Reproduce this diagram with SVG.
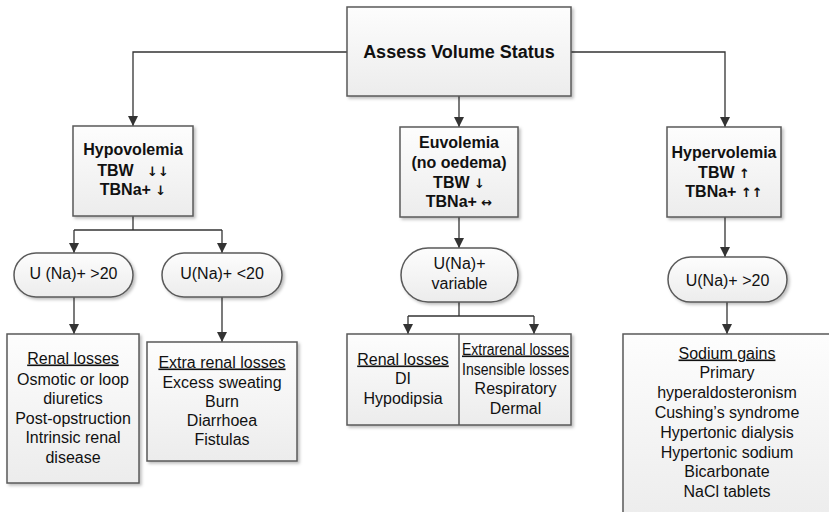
<svg xmlns="http://www.w3.org/2000/svg" width="829" height="512" viewBox="0 0 829 512">
<style>
.box{fill:url(#g);stroke:#5a5a5a;stroke-width:1.5;filter:url(#sh)}
.b{font-family:"Liberation Sans",Arial,sans-serif;font-weight:bold;font-size:16px;fill:#111;text-anchor:middle}
.t{font-family:"Liberation Sans",Arial,sans-serif;font-size:16px;fill:#111;text-anchor:middle}
.u{text-decoration:underline}
.ar{font-family:"DejaVu Sans",sans-serif;font-size:13px;fill:#111}
.c{fill:none;stroke:#333;stroke-width:1.3}
</style>
<defs>
<linearGradient id="g" x1="0" y1="0" x2="0" y2="1">
<stop offset="0" stop-color="#fdfdfd"/>
<stop offset="1" stop-color="#ececec"/>
</linearGradient>
<filter id="sh" x="-10%" y="-10%" width="130%" height="130%">
<feDropShadow dx="2" dy="2" stdDeviation="1.5" flood-color="#000" flood-opacity="0.25"/>
</filter>
<marker id="a" viewBox="0 0 10 10" refX="10" refY="5" markerWidth="10" markerHeight="10" markerUnits="userSpaceOnUse" orient="auto">
<path d="M0,0 L10,5 L0,10 z" fill="#333"/>
</marker>
</defs>
<rect width="829" height="512" fill="#fff"/>
<g id="connectors">
<path class="c" d="M347,52 H133 V126" marker-end="url(#a)"/>
<path class="c" d="M459,96 V127" marker-end="url(#a)"/>
<path class="c" d="M571,52 H725 V127" marker-end="url(#a)"/>
<path class="c" d="M133,216 V230"/>
<path class="c" d="M74,230 H222"/>
<path class="c" d="M74,230 V253" marker-end="url(#a)"/>
<path class="c" d="M222,230 V253" marker-end="url(#a)"/>
<path class="c" d="M74,297 V334" marker-end="url(#a)"/>
<path class="c" d="M222,297 V342" marker-end="url(#a)"/>
<path class="c" d="M459,217 V248" marker-end="url(#a)"/>
<path class="c" d="M459,302 V316"/>
<path class="c" d="M408,316 H534"/>
<path class="c" d="M408,316 V334" marker-end="url(#a)"/>
<path class="c" d="M534,316 V334" marker-end="url(#a)"/>
<path class="c" d="M725,217 V257" marker-end="url(#a)"/>
<path class="c" d="M727,302 V334" marker-end="url(#a)"/>
</g>
<g id="assess">
<rect class="box" x="347" y="7" width="224" height="89"/>
<text class="b" x="459" y="58" style="font-size:18px">Assess Volume Status</text>
</g>
<g id="hypovolemia">
<rect class="box" x="73" y="126" width="120" height="90"/>
<text class="b" x="133" y="154.5">Hypovolemia</text>
<text class="b" x="133" y="175.5" xml:space="preserve">TBW   <tspan class="ar">↓↓</tspan></text>
<text class="b" x="133" y="194.5">TBNa+ <tspan class="ar">↓</tspan></text>
</g>
<g id="euvolemia">
<rect class="box" x="400" y="127" width="118" height="90"/>
<text class="b" x="459" y="147.5">Euvolemia</text>
<text class="b" x="459" y="167.5">(no oedema)</text>
<text class="b" x="459" y="187.5">TBW <tspan class="ar">↓</tspan></text>
<text class="b" x="459" y="206.5">TBNa+ <tspan class="ar">↔</tspan></text>
</g>
<g id="hypervolemia">
<rect class="box" x="667" y="127" width="114" height="90"/>
<text class="b" x="724" y="157.5">Hypervolemia</text>
<text class="b" x="724" y="177.5">TBW <tspan class="ar">↑</tspan></text>
<text class="b" x="724" y="196.5">TBNa+ <tspan class="ar">↑↑</tspan></text>
</g>
<g id="una-gt20-left">
<rect class="box" x="14" y="253" width="119" height="44" rx="22"/>
<text class="t" x="73.5" y="278.5">U (Na)+ &gt;20</text>
</g>
<g id="una-lt20">
<rect class="box" x="162" y="253" width="120" height="44" rx="22"/>
<text class="t" x="222" y="278.5">U(Na)+ &lt;20</text>
</g>
<g id="una-variable">
<rect class="box" x="401" y="248" width="117" height="54" rx="27"/>
<text class="t" x="459.5" y="268.5">U(Na)+</text>
<text class="t" x="459.5" y="288.5">variable</text>
</g>
<g id="una-gt20-right">
<rect class="box" x="668" y="257" width="119" height="45" rx="22.5"/>
<text class="t" x="727.5" y="285.5">U(Na)+ &gt;20</text>
</g>
<g id="renal-losses">
<rect class="box" x="7" y="334" width="132" height="149"/>
<text class="t u" x="73" y="363.5">Renal losses</text>
<text class="t" x="73" y="384.5">Osmotic or loop</text>
<text class="t" x="73" y="403.5">diuretics</text>
<text class="t" x="73" y="423.5">Post-opstruction</text>
<text class="t" x="73" y="442.5">Intrinsic renal</text>
<text class="t" x="73" y="462.5">disease</text>
</g>
<g id="extra-renal-losses">
<rect class="box" x="147" y="342" width="150" height="119"/>
<text class="t u" x="222" y="367.5">Extra renal losses</text>
<text class="t" x="222" y="387.5">Excess sweating</text>
<text class="t" x="222" y="406.5">Burn</text>
<text class="t" x="222" y="425.5">Diarrhoea</text>
<text class="t" x="222" y="444.5">Fistulas</text>
</g>
<g id="euvolemia-losses">
<rect class="box" x="347" y="334" width="224" height="91"/>
<line x1="459" y1="334" x2="459" y2="425" stroke="#5a5a5a" stroke-width="1.5"/>
<text class="t u" x="403" y="364.5">Renal losses</text>
<text class="t" x="403" y="383.5">DI</text>
<text class="t" x="403" y="403.5">Hypodipsia</text>
<text class="t u" x="515.5" y="354.5" textLength="107" lengthAdjust="spacingAndGlyphs">Extrarenal losses</text>
<text class="t" x="515.5" y="374.5" textLength="107" lengthAdjust="spacingAndGlyphs">Insensible losses</text>
<text class="t" x="515.5" y="393.5">Respiratory</text>
<text class="t" x="515.5" y="413.5">Dermal</text>
</g>
<g id="sodium-gains">
<rect class="box" x="623" y="334" width="210" height="190"/>
<text class="t u" x="727" y="358.5">Sodium gains</text>
<text class="t" x="727" y="378.3">Primary</text>
<text class="t" x="727" y="398.1">hyperaldosteronism</text>
<text class="t" x="727" y="417.9">Cushing’s syndrome</text>
<text class="t" x="727" y="437.7">Hypertonic dialysis</text>
<text class="t" x="727" y="457.5">Hypertonic sodium</text>
<text class="t" x="727" y="477.3">Bicarbonate</text>
<text class="t" x="727" y="497.1">NaCl tablets</text>
</g>
</svg>
